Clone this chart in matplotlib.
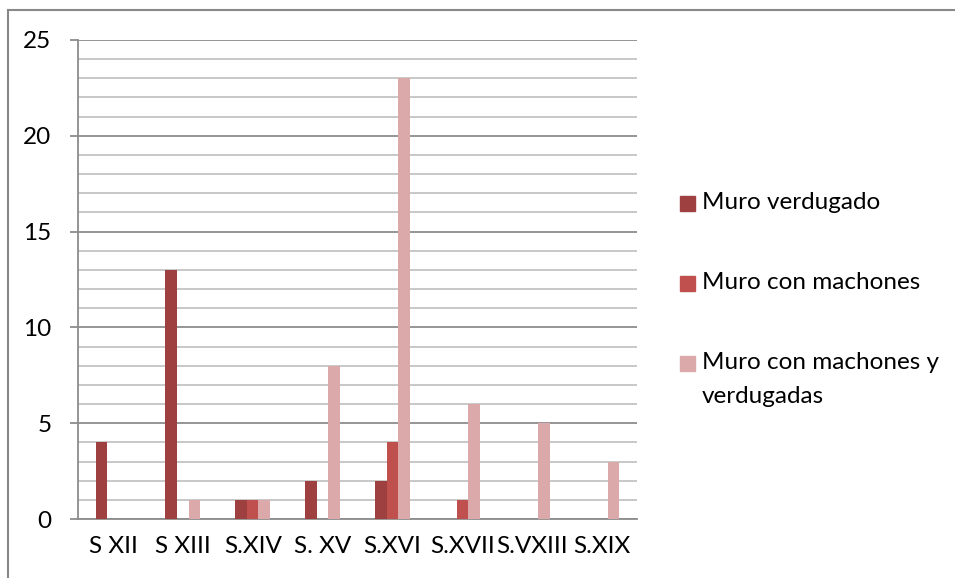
import matplotlib
matplotlib.use('agg')
import matplotlib.pyplot as plt
from matplotlib.patches import Rectangle
from matplotlib.lines import Line2D
import numpy as np

# data
categories = ["S XII", "S XIII", "S.XIV", "S. XV", "S.XVI", "S.XVII", "S.VXIII", "S.XIX"]
series_names = ["Muro verdugado", "Muro con machones", "Muro con machones y\nverdugadas"]
muro_verdugado = [4, 13, 1, 2, 2, 0, 0, 0]
muro_machones = [0, 0, 1, 0, 4, 1, 0, 0]
muro_machones_verdugadas = [0, 1, 1, 8, 23, 6, 5, 3]
colors = ["#9E4040", "#C0504D", "#DBA9AA"]

plt.rcParams['font.family'] = ['Lato', 'DejaVu Sans']
fs = 17.5

fig = plt.figure(figsize=(9.55, 5.78), dpi=100)
ax = fig.add_axes([78 / 955, 1 - 519 / 578, (637 - 78) / 955, (519 - 40) / 578])

x = np.arange(len(categories))
w = 0.166
all_series = [muro_verdugado, muro_machones, muro_machones_verdugadas]
for i, (vals, col) in enumerate(zip(all_series, colors)):
    ax.bar(x + (i - 1) * w, vals, width=w, color=col, zorder=3)

ax.set_xlim(-0.5, len(categories) - 0.5)
ax.set_ylim(0, 25)

# gridlines: light every 1, darker every 5
ax.set_yticks(np.arange(0, 26, 5))
ax.set_yticks(np.arange(0, 26, 1), minor=True)
ax.grid(axis='y', which='minor', color='#C4C4C4', linewidth=1.3, zorder=0)
ax.grid(axis='y', which='major', color='#8C8C8C', linewidth=1.3, zorder=1)
ax.grid(axis='x', visible=False)

ax.set_xticks(x)
ax.set_xticklabels(categories, fontsize=fs)
ax.tick_params(axis='x', length=0, pad=12)
ax.tick_params(axis='y', which='major', length=6, width=1.3, color='#8C8C8C',
               pad=13, labelsize=fs)
ax.tick_params(axis='y', which='minor', length=0)

for side in ['top', 'right']:
    ax.spines[side].set_visible(False)
ax.spines['left'].set_color('#8C8C8C')
ax.spines['left'].set_linewidth(1.3)
ax.spines['bottom'].set_color('#8C8C8C')
ax.spines['bottom'].set_linewidth(1.3)

# legend drawn by hand to match the spacing of the original
W, H = 955, 578
legend_y = [203, 283, 363]
for name, col, yc in zip(series_names, colors, legend_y):
    fig.add_artist(Rectangle((680 / W, 1 - (yc + 8) / H), 15 / W, 15 / H,
                             transform=fig.transFigure, color=col))
    fig.text(702 / W, 1 - (yc - 11) / H, name, fontsize=fs, va='top', ha='left',
             linespacing=1.75)

# chart border (only top and left visible in the crop)
fig.add_artist(Line2D([8 / W, 1], [1 - 10 / H, 1 - 10 / H], color='#888888', linewidth=1.5,
                      transform=fig.transFigure))
fig.add_artist(Line2D([8 / W, 8 / W], [0, 1 - 10 / H], color='#888888', linewidth=1.5,
                      transform=fig.transFigure))

fig.savefig('out.png', dpi=100)
